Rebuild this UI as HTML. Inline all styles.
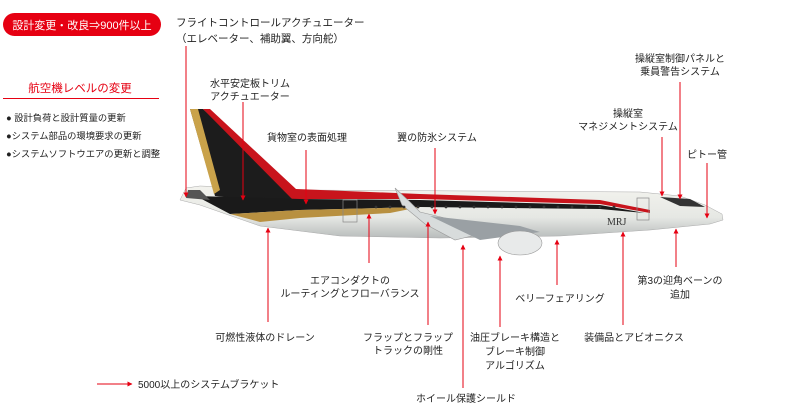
<!DOCTYPE html>
<html><head><meta charset="utf-8"><style>
html,body{margin:0;padding:0;background:#fff;}
svg{display:block;font-family:"Liberation Sans","Noto Sans CJK JP",sans-serif;}
</style></head><body>
<svg width="800" height="404" viewBox="0 0 800 404" xmlns="http://www.w3.org/2000/svg">
<defs>
<marker id="a" viewBox="0 0 10 10" refX="9" refY="5" markerWidth="5" markerHeight="5" orient="auto-start-reverse"><path d="M0,0L10,5L0,10z" fill="#e60012"/></marker>
<linearGradient id="fus" x1="0" y1="0" x2="0" y2="1"><stop offset="0" stop-color="#f3f3ee"/><stop offset="0.6" stop-color="#e6e8e4"/><stop offset="1" stop-color="#b8bcbc"/></linearGradient>
</defs>
<rect x="3" y="13" width="158" height="23" rx="11.5" fill="#e60012"/>
<text x="82" y="29" font-size="11" fill="#fff" text-anchor="middle">設計変更・改良⇒900件以上</text>
<text x="80" y="92" font-size="11.5" fill="#e60012" text-anchor="middle">航空機レベルの変更</text>
<line x1="3" y1="98.5" x2="159" y2="98.5" stroke="#e60012" stroke-width="1"/>
<g font-size="9.3" fill="#222">
<text x="6" y="121">● 設計負荷と設計質量の更新</text>
<text x="6" y="139">●システム部品の環境要求の更新</text>
<text x="6" y="157">●システムソフトウエアの更新と調整</text>
</g>
<g>
<path d="M186,188 L200,186 L300,190 L640,192 L680,196 L705,205 L722,214 L723,220 L710,224 L650,230 L560,236 L440,238 L340,236 L260,226 L200,205 L180,200 Z" fill="url(#fus)" stroke="#aaa" stroke-width="0.5"/>
<path d="M190,109 L203,109 L290,188 L300,200 L250,200 L215,196 Z" fill="#1c1c1c"/>
<path d="M190,109 L198,109 L220,190 L214,194 Z" fill="#c9a24a"/>
<path d="M203,109 L210,109 L296,189 L420,194 L600,200 L650,210 L650,213 L600,204 L420,199 L292,199 Z" fill="#c8141c"/>
<path d="M196,196 L300,199 L420,200 L600,205 L645,213 L600,209 L420,207 L300,210 L230,214 Z" fill="#1a1a1a"/>
<path d="M230,214 L300,210 L420,207 L390,213 L300,218 L260,222 Z" fill="#b89040"/>
<path d="M188,190 L200,190 L210,200 L186,198 Z" fill="#555"/>
<path d="M395,188 L410,202 L420,212 L470,224 L480,234 L455,240 L425,224 L402,205 Z" fill="#d8dcdc" stroke="#999" stroke-width="0.6"/>
<path d="M430,216 L520,226 L540,232 L480,240 Z" fill="#9aa0a4"/>
<ellipse cx="520" cy="243" rx="22" ry="12" fill="#e8eaea" stroke="#999" stroke-width="0.6"/>
<path d="M660,197 L690,199 L705,207 L680,206 Z" fill="#333"/>
<rect x="343" y="200" width="14" height="22" fill="none" stroke="#888" stroke-width="0.7"/>
<rect x="637" y="198" width="12" height="22" fill="none" stroke="#888" stroke-width="0.7"/>
<text x="607" y="225" font-size="10" font-family="Liberation Serif,serif" fill="#333">MRJ</text>
<g fill="#333">
<circle cx="376" cy="207" r="1.4"/><circle cx="390" cy="207" r="1.4"/><circle cx="404" cy="207" r="1.4"/><circle cx="418" cy="207" r="1.4"/><circle cx="432" cy="207" r="1.4"/><circle cx="446" cy="207" r="1.4"/><circle cx="460" cy="207" r="1.4"/><circle cx="474" cy="207" r="1.4"/><circle cx="488" cy="207" r="1.4"/><circle cx="502" cy="207" r="1.4"/><circle cx="516" cy="207" r="1.4"/><circle cx="530" cy="207" r="1.4"/><circle cx="544" cy="207" r="1.4"/><circle cx="558" cy="207" r="1.4"/><circle cx="572" cy="207" r="1.4"/><circle cx="586" cy="207" r="1.4"/><circle cx="600" cy="207" r="1.4"/><circle cx="614" cy="207" r="1.4"/>
</g>
</g>
<g stroke="#e60012" stroke-width="1" marker-end="url(#a)">
<line x1="186" y1="46" x2="186" y2="197"/>
<line x1="243" y1="102" x2="243" y2="200"/>
<line x1="306" y1="150" x2="306" y2="204"/>
<line x1="435" y1="148" x2="435" y2="214"/>
<line x1="662" y1="137" x2="662" y2="196"/>
<line x1="680" y1="82" x2="680" y2="199"/>
<line x1="707" y1="163" x2="707" y2="218"/>
<line x1="268" y1="322" x2="268" y2="228"/>
<line x1="369" y1="263" x2="369" y2="214"/>
<line x1="428" y1="325" x2="428" y2="222"/>
<line x1="463" y1="388" x2="463" y2="245"/>
<line x1="500" y1="327" x2="500" y2="256"/>
<line x1="557" y1="285" x2="557" y2="240"/>
<line x1="623" y1="325" x2="623" y2="232"/>
<line x1="676" y1="267" x2="676" y2="229"/>
<line x1="97" y1="384" x2="132" y2="384"/>
</g>
<g font-size="10" fill="#222" text-anchor="middle">
<text x="176" y="26" text-anchor="start" font-size="10.5">フライトコントロールアクチュエーター</text>
<text x="176" y="42" text-anchor="start" font-size="10.5">（エレベーター、補助翼、方向舵）</text>
<text x="250" y="87">水平安定板トリム</text>
<text x="250" y="100">アクチュエーター</text>
<text x="307" y="141">貨物室の表面処理</text>
<text x="437" y="141">翼の防氷システム</text>
<text x="680" y="62">操縦室制御パネルと</text>
<text x="680" y="75">乗員警告システム</text>
<text x="628" y="117">操縦室</text>
<text x="628" y="130">マネジメントシステム</text>
<text x="707" y="158">ピトー管</text>
<text x="265" y="341">可燃性液体のドレーン</text>
<text x="350" y="284">エアコンダクトの</text>
<text x="350" y="297">ルーティングとフローバランス</text>
<text x="408" y="341">フラップとフラップ</text>
<text x="408" y="354">トラックの剛性</text>
<text x="466" y="402">ホイール保護シールド</text>
<text x="515" y="341">油圧ブレーキ構造と</text>
<text x="515" y="355">ブレーキ制御</text>
<text x="515" y="369">アルゴリズム</text>
<text x="560" y="302">ベリーフェアリング</text>
<text x="634" y="341">装備品とアビオニクス</text>
<text x="680" y="284">第3の迎角ベーンの</text>
<text x="680" y="298">追加</text>
<text x="138" y="388" text-anchor="start">5000以上のシステムブラケット</text>
</g>
</svg>
</body></html>
